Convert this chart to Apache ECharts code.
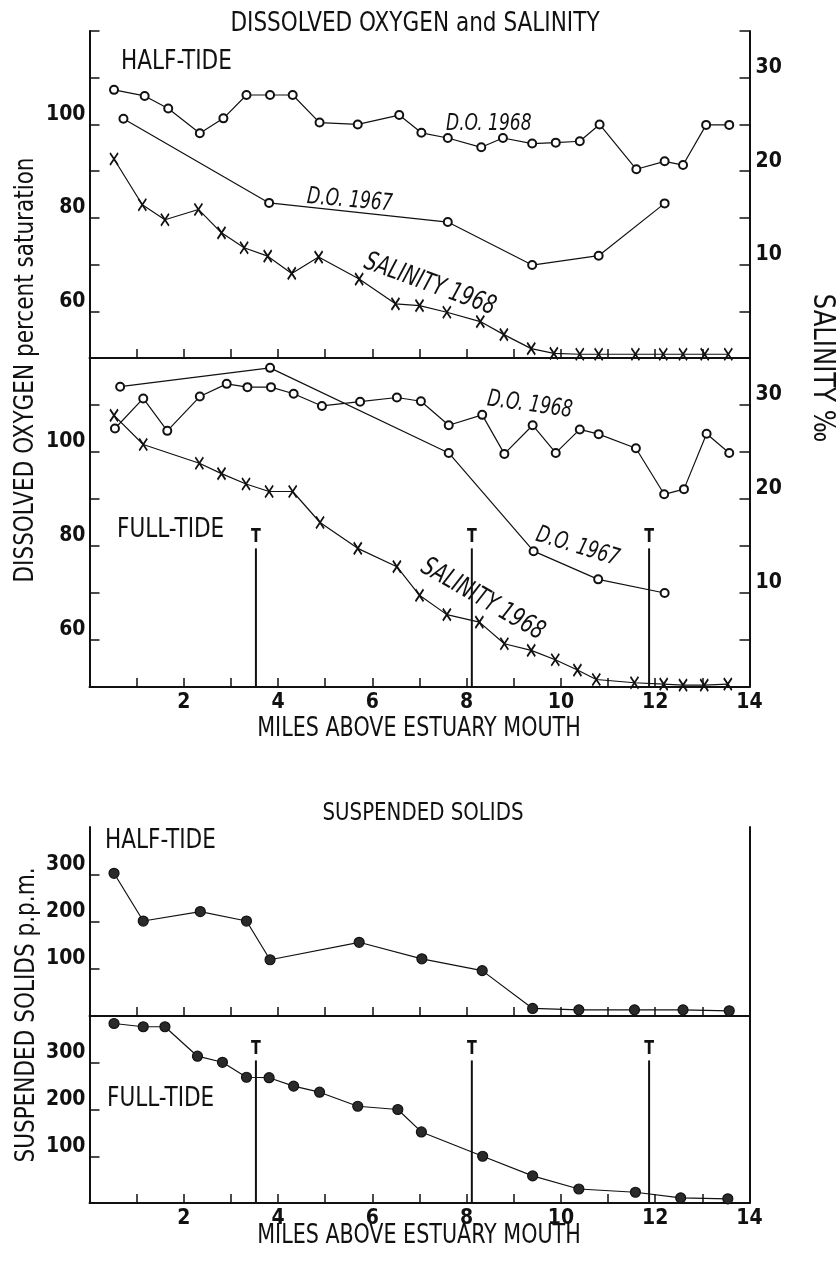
<!DOCTYPE html>
<html>
<head>
<meta charset="utf-8">
<script src="https://cdn.jsdelivr.net/npm/echarts@6/dist/echarts.min.js"></script>
<style>
  html, body { margin: 0; padding: 0; background: #fff; }
  #chart { width: 836px; height: 1261px; }
</style>
</head>
<body>
<div id="chart"></div>
<script>
// ---------- data (miles above estuary mouth) ----------
// Dissolved oxygen (% saturation) and salinity (per mille), half-tide
const doHalf1968Miles = [0.52, 1.17, 1.67, 2.34, 2.84, 3.33, 3.83, 4.31, 4.88, 5.69, 6.57, 7.04, 7.60, 8.31, 8.77, 9.39, 9.89, 10.40, 10.82, 11.60, 12.20, 12.59, 13.08, 13.57];
const doHalf1968 = [107.4, 106.1, 103.4, 98.1, 101.3, 106.3, 106.3, 106.3, 100.4, 100.0, 102.0, 98.2, 97.1, 95.1, 97.1, 95.9, 96.1, 96.4, 100.0, 90.4, 92.1, 91.3, 99.9, 99.9];
const doHalf1967Miles = [0.72, 3.81, 7.60, 9.39, 10.80, 12.20];
const doHalf1967 = [101.2, 83.2, 79.1, 69.9, 71.9, 83.1];
const salHalf1968Miles = [0.52, 1.12, 1.60, 2.31, 2.80, 3.28, 3.78, 4.29, 4.86, 5.72, 6.49, 7.00, 7.58, 8.29, 8.79, 9.37, 9.85, 10.40, 10.80, 11.58, 12.17, 12.59, 13.05, 13.55];
const salHalf1968 = [21.3, 16.4, 14.8, 15.9, 13.4, 11.8, 10.9, 9.05, 10.8, 8.45, 5.8, 5.6, 4.9, 3.9, 2.5, 1.0, 0.5, 0.4, 0.4, 0.4, 0.4, 0.4, 0.4, 0.4];

// Full-tide
const doFull1968Miles = [0.54, 1.14, 1.65, 2.34, 2.91, 3.35, 3.85, 4.33, 4.93, 5.74, 6.52, 7.03, 7.62, 8.33, 8.80, 9.40, 9.89, 10.40, 10.80, 11.59, 12.19, 12.61, 13.09, 13.57];
const doFull1968 = [105.0, 111.4, 104.5, 111.8, 114.5, 113.8, 113.8, 112.4, 109.8, 110.7, 111.6, 110.8, 105.7, 107.9, 99.6, 105.7, 99.8, 104.8, 103.8, 100.8, 91.0, 92.1, 103.9, 99.8];
const doFull1967Miles = [0.65, 3.83, 7.62, 9.42, 10.79, 12.20];
const doFull1967 = [113.9, 117.9, 99.8, 78.9, 72.9, 70.0];
const salFull1968Miles = [0.52, 1.14, 2.33, 2.80, 3.32, 3.81, 4.31, 4.89, 5.69, 6.52, 7.00, 7.58, 8.27, 8.80, 9.37, 9.88, 10.35, 10.75, 11.56, 12.18, 12.59, 13.04, 13.54];
const salFull1968 = [28.9, 25.8, 23.8, 22.7, 21.6, 20.8, 20.8, 17.5, 14.75, 12.8, 9.75, 7.7, 6.9, 4.6, 3.9, 2.9, 1.8, 0.8, 0.45, 0.3, 0.2, 0.2, 0.3];

// Suspended solids (p.p.m.)
const ssHalfMiles = [0.52, 1.14, 2.35, 3.33, 3.83, 5.72, 7.05, 8.33, 9.40, 10.38, 11.56, 12.59, 13.57];
const ssHalf = [302, 201, 221, 201, 119, 156, 121, 96, 16, 13, 13, 13, 11];
const ssFullMiles = [0.52, 1.14, 1.60, 2.29, 2.82, 3.33, 3.81, 4.33, 4.88, 5.69, 6.54, 7.04, 8.34, 9.40, 10.38, 11.58, 12.54, 13.54];
const ssFull = [384, 377, 377, 314, 301, 269, 268, 250, 237, 207, 200, 152, 100, 58, 30, 23, 11, 9];

// Tide-station markers "T" (miles) and the value where each marker line stops
const tideMiles = [3.53, 8.11, 11.87];
const tideTopDO = 79.5;
const tideTopSS = 305;

// Axis tick labels
const doTickLabels = [60, 80, 100];
const salTickLabels = [10, 20, 30];
const ssTickLabels = [100, 200, 300];

// ---------- styling ----------
const FONT = "'DejaVu Sans Condensed', 'DejaVu Sans', sans-serif";
const INK = '#111';

function pairs(xs, ys) { return xs.map((x, i) => [x, ys[i]]); }

function xAxisFor(gridIndex, labelled) {
  return {
    type: 'value', gridIndex, min: 0, max: 14, interval: 1,
    axisLine: { show: true, onZero: false, lineStyle: { color: INK, width: 2 } },
    axisTick: { show: true, inside: true, length: 9, lineStyle: { color: INK, width: 1.5 } },
    axisLabel: {
      show: labelled, margin: 5, color: INK, fontFamily: FONT, fontSize: 21, fontWeight: 'bold',
      formatter: v => (v > 0 && v % 2 === 0) ? String(v) : ''
    },
    splitLine: { show: false }
  };
}

function leftAxis(gridIndex, min, max, interval, labels, tickValues) {
  const ax = {
    type: 'value', gridIndex, position: 'left', min, max, interval,
    axisLine: { show: true, onZero: false, lineStyle: { color: INK, width: 2 } },
    axisTick: { show: true, inside: true, length: 10, lineStyle: { color: INK, width: 1.5 } },
    axisLabel: {
      margin: 4, color: INK, fontFamily: FONT, fontSize: 21, fontWeight: 'bold',
      verticalAlign: 'bottom', lineHeight: 20,
      formatter: v => labels.includes(v) ? String(v) : ''
    },
    splitLine: { show: false }
  };
  if (tickValues) ax.axisTick.customValues = tickValues;
  return ax;
}

function rightAxis(gridIndex, min, max, interval, labels, showTicks) {
  return {
    type: 'value', gridIndex, position: 'right', min, max, interval,
    axisLine: { show: true, onZero: false, lineStyle: { color: INK, width: 2 } },
    axisTick: { show: showTicks, inside: true, length: 10, lineStyle: { color: INK, width: 1.5 } },
    axisLabel: {
      show: labels.length > 0, margin: 6, color: INK, fontFamily: FONT, fontSize: 21, fontWeight: 'bold',
      verticalAlign: 'bottom', lineHeight: 20,
      formatter: v => labels.includes(v) ? String(v) : ''
    },
    splitLine: { show: false }
  };
}

const lineStyle = { color: INK, width: 1.2 };

function doSeries(name, xi, yi, data) {
  return {
    name, type: 'line', xAxisIndex: xi, yAxisIndex: yi, data,
    symbol: 'emptyCircle', symbolSize: 8,
    itemStyle: { color: INK, borderColor: INK, borderWidth: 1.6 },
    lineStyle, z: 3
  };
}

const X_MARK = 'path://M0,0L8,12M8,0L0,12';
function salSeries(name, xi, yi, data) {
  return {
    name, type: 'line', xAxisIndex: xi, yAxisIndex: yi, data,
    symbol: X_MARK, symbolSize: [8, 12], symbolKeepAspect: false,
    itemStyle: { color: INK, borderColor: INK, borderWidth: 1.9 },
    lineStyle, z: 3
  };
}

function ssSeries(name, xi, yi, data) {
  return {
    name, type: 'line', xAxisIndex: xi, yAxisIndex: yi, data,
    symbol: 'circle', symbolSize: 10,
    itemStyle: { color: '#2a2a2a', borderColor: INK, borderWidth: 1.2 },
    lineStyle, z: 3
  };
}

function tideSeries(xi, yi, bottom, top) {
  return {
    type: 'custom', xAxisIndex: xi, yAxisIndex: yi,
    data: tideMiles.map(m => [m, bottom, top]),
    renderItem: (params, api) => {
      const p0 = api.coord([api.value(0), api.value(1)]);
      const p1 = api.coord([api.value(0), api.value(2)]);
      return {
        type: 'group',
        children: [
          { type: 'line', shape: { x1: p0[0], y1: p0[1], x2: p1[0], y2: p1[1] },
            style: { stroke: INK, lineWidth: 2 } },
          { type: 'text', x: p1[0], y: p1[1] - 2, scaleY: 1.25,
            style: { text: 'T', x: 0, y: 0, align: 'center', verticalAlign: 'bottom',
                     fill: INK, font: 'bold 16px ' + FONT } }
        ]
      };
    },
    z: 2
  };
}

const grids = [
  { left: 89.5, width: 660, top: 31, height: 327 },   // D.O. half-tide
  { left: 89.5, width: 660, top: 358, height: 329 },  // D.O. full-tide
  { left: 89.5, width: 660, top: 827, height: 189 },  // S.S. half-tide
  { left: 89.5, width: 660, top: 1016, height: 187 }  // S.S. full-tide
];

const option = {
  backgroundColor: '#fff',
  animation: false,
  grid: grids,
  xAxis: [xAxisFor(0, false), xAxisFor(1, true), xAxisFor(2, false), xAxisFor(3, true)],
  yAxis: [
    leftAxis(0, 50, 120, 10, doTickLabels),                 // 0
    rightAxis(0, 0, 35, 5, salTickLabels, true),             // 1
    leftAxis(1, 50, 120, 10, doTickLabels),                  // 2
    rightAxis(1, 0, 35, 5, salTickLabels, true),             // 3
    leftAxis(2, 0, 400, 100, ssTickLabels, ssTickLabels),    // 4
    rightAxis(2, 0, 400, 100, [], false),                    // 5
    leftAxis(3, 0, 400, 100, ssTickLabels, ssTickLabels),    // 6
    rightAxis(3, 0, 400, 100, [], false)                     // 7
  ],
  series: [
    doSeries('D.O. 1968 half-tide', 0, 0, pairs(doHalf1968Miles, doHalf1968)),   // 0
    doSeries('D.O. 1967 half-tide', 0, 0, pairs(doHalf1967Miles, doHalf1967)),
    salSeries('Salinity 1968 half-tide', 0, 1, pairs(salHalf1968Miles, salHalf1968)),
    doSeries('D.O. 1968 full-tide', 1, 2, pairs(doFull1968Miles, doFull1968)),   // 3
    doSeries('D.O. 1967 full-tide', 1, 2, pairs(doFull1967Miles, doFull1967)),
    salSeries('Salinity 1968 full-tide', 1, 3, pairs(salFull1968Miles, salFull1968)),
    tideSeries(1, 2, 50, tideTopDO),
    ssSeries('Suspended solids half-tide', 2, 4, pairs(ssHalfMiles, ssHalf)),
    ssSeries('Suspended solids full-tide', 3, 6, pairs(ssFullMiles, ssFull)),
    tideSeries(3, 6, 0, tideTopSS)
  ]
};

const chart = echarts.init(document.getElementById('chart'), null, { renderer: 'canvas' });
chart.setOption(option);

// ---------- text placed on the plotting areas ----------
// Curve names, positioned in data units next to their curves
const curveNotes = [
  { text: 'D.O. 1968',     series: 0, at: [8.47, 100.2], angle: 0,   size: 19 },
  { text: 'D.O. 1967',     series: 0, at: [5.52, 83.7],  angle: -5,  size: 19 },
  { text: 'SALINITY 1968', series: 0, at: [7.22, 65.7],  angle: -20, size: 21 },
  { text: 'D.O. 1968',     series: 3, at: [9.34, 110.0], angle: -8,  size: 19 },
  { text: 'D.O. 1967',     series: 3, at: [10.35, 79.8], angle: -17, size: 19 },
  { text: 'SALINITY 1968', series: 3, at: [8.34, 68.6],  angle: -30, size: 21 }
];

const graphics = curveNotes.map(n => {
  const p = chart.convertToPixel({ seriesIndex: n.series }, n.at);
  return {
    type: 'text', x: p[0], y: p[1], rotation: n.angle * Math.PI / 180, scaleY: 1.25, silent: true,
    style: { text: n.text, align: 'center', verticalAlign: 'middle', fill: INK,
             font: 'italic ' + n.size + 'px ' + FONT }
  };
});

function label(text, x, y, size, opts) {
  return Object.assign({
    type: 'text', x, y, scaleY: 1.12, silent: true,
    style: Object.assign({ text, fill: INK, font: size + 'px ' + FONT,
                           align: 'left', verticalAlign: 'middle' }, (opts && opts.style) || {})
  }, (opts && opts.el) || {});
}

graphics.push(
  label('DISSOLVED OXYGEN and SALINITY', 415, 24, 24, { style: { align: 'center' } }),
  label('HALF-TIDE', 121, 62, 24),
  label('FULL-TIDE', 117, 530, 24),
  label('MILES ABOVE ESTUARY MOUTH', 419, 729, 23, { style: { align: 'center' } }),
  label('DISSOLVED OXYGEN percent saturation', 26, 370, 24,
        { style: { align: 'center' }, el: { rotation: Math.PI / 2 } }),
  label('SALINITY ‰', 822, 368, 27,
        { style: { align: 'center' }, el: { rotation: -Math.PI / 2 } }),
  label('SUSPENDED SOLIDS', 423, 814, 22, { style: { align: 'center' } }),
  label('HALF-TIDE', 105, 841, 24),
  label('FULL-TIDE', 107, 1099, 24),
  label('MILES ABOVE ESTUARY MOUTH', 419, 1236, 23, { style: { align: 'center' } }),
  label('SUSPENDED SOLIDS p.p.m.', 27, 1015, 24,
        { style: { align: 'center' }, el: { rotation: Math.PI / 2 } })
);

chart.setOption({ graphic: graphics });
</script>
</body>
</html>
